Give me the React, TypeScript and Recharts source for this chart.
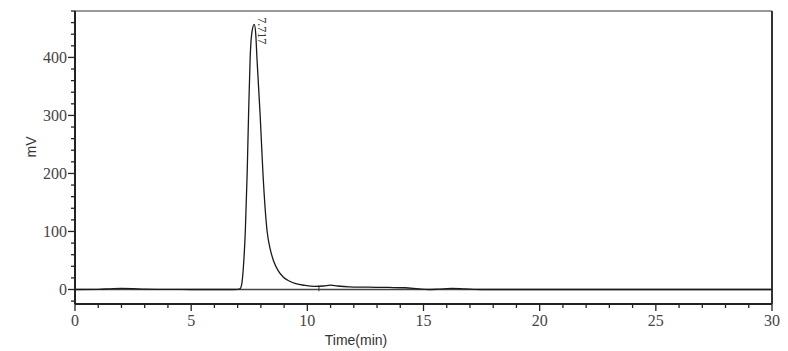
import React from "react";
import {
  LineChart,
  Line,
  XAxis,
  YAxis,
  ReferenceLine,
  ReferenceDot,
} from "recharts";

// retention time (min)
const TIMES = [
  0, 1, 1.5, 2, 2.5, 3, 4, 5, 6, 6.8, 7.0, 7.1, 7.18, 7.25, 7.33, 7.41, 7.47,
  7.54, 7.62, 7.717, 7.78, 7.83, 7.97, 8.09, 8.27, 8.4, 8.54, 8.75, 8.95, 9.2,
  9.5, 9.9, 10.3, 10.7, 11.0, 11.3, 11.8, 12.5, 13.5, 14.2, 14.8, 15.2, 15.6,
  16.2, 16.8, 17.5, 19, 22, 26, 30,
];
// detector signal (mV)
const SIGNAL = [
  0, 0.3, 1.2, 2, 1.5, 0.6, 0.2, 0, 0, 0, 0.2, 1, 10, 40, 100, 200, 300, 400,
  445, 457, 440, 400, 300, 200, 100, 70, 50, 32, 22, 15, 10, 7, 5.5, 6, 7.5, 6,
  4.5, 4, 3.5, 3, 1, 0, 0.5, 2, 1, 0, 0, 0, 0, 0,
];
const X_TICKS = Array.from({ length: 31 }, (_, i) => i);
const Y_TICKS = [-20, 0, 20, 40, 60, 80, 100, 120, 140, 160, 180, 200, 220, 240, 260, 280, 300, 320, 340, 360, 380, 400, 420, 440, 460, 480];
const PEAK_TIME = 7.717;
const PEAK_HEIGHT = 457;
const PEAK_LABEL = "7.717";
const MARKER_TIME = 10.5;

const data = TIMES.map((t, i) => ({ t, v: SIGNAL[i] }));

const SERIF = "'Liberation Serif', 'Times New Roman', serif";
const SANS = "Arial, 'Liberation Sans', sans-serif";

const XTick = (props: any) => {
  const { x, y, payload } = props;
  const major = payload.value % 5 === 0;
  return (
    <g>
      <line x1={x} x2={x} y1={y} y2={y + (major ? 7 : 4)} stroke="#222" strokeWidth={1.3} />
      {major && (
        <text x={x} y={y + 22} textAnchor="middle" fontFamily={SERIF} fontSize={16} fill="#444">
          {payload.value}
        </text>
      )}
    </g>
  );
};

const YTick = (props: any) => {
  const { x, y, payload } = props;
  const major = payload.value % 100 === 0;
  return (
    <g>
      <line x1={x} x2={x - (major ? 7 : 4)} y1={y} y2={y} stroke="#222" strokeWidth={1.3} />
      {major && (
        <text x={x - 8} y={y} dy="0.35em" textAnchor="end" fontFamily={SERIF} fontSize={16} fill="#444">
          {payload.value}
        </text>
      )}
    </g>
  );
};

export default function App() {
  return (
    <div style={{ position: "absolute", left: 0, top: 0, background: "#fff" }}>
      <LineChart
        width={788}
        height={351}
        data={data}
        margin={{ top: 11, right: 16, bottom: 0, left: 0 }}
      >
        <XAxis
          dataKey="t"
          type="number"
          domain={[0, 30]}
          ticks={X_TICKS}
          interval={0}
          tickSize={0}
          tickMargin={0}
          tickLine={false}
          tick={<XTick />}
          axisLine={{ stroke: "#222", strokeWidth: 2 }}
          height={47}
          allowDataOverflow
          label={{
            content: (p: any) => {
              const vb = p.viewBox;
              return (
                <text x={vb.x + 281} y={vb.y + 41} textAnchor="middle" fontFamily={SANS} fontSize={14} fill="#333">
                  Time(min)
                </text>
              );
            },
          }}
        />
        <YAxis
          type="number"
          domain={[-25, 480]}
          ticks={Y_TICKS}
          interval={0}
          tickSize={0}
          tickMargin={0}
          tickLine={false}
          tick={<YTick />}
          axisLine={{ stroke: "#222", strokeWidth: 2 }}
          width={75}
          allowDataOverflow
          label={{
            content: (p: any) => {
              const vb = p.viewBox;
              const cx = vb.x + 31;
              const cy = 147;
              return (
                <text x={cx} y={cy} dy="0.35em" textAnchor="middle" fontFamily={SANS} fontSize={14} fill="#333" transform={`rotate(-90 ${cx} ${cy})`}>
                  mV
                </text>
              );
            },
          }}
        />
        <ReferenceLine y={480} stroke="#777" strokeWidth={1.5} />
        <ReferenceLine x={30} stroke="#333" strokeWidth={2} />
        <ReferenceLine y={0} stroke="#444" strokeWidth={1.4} />
        <ReferenceLine
          segment={[
            { x: MARKER_TIME, y: -3 },
            { x: MARKER_TIME, y: 6 },
          ]}
          stroke="#333"
          strokeWidth={1}
        />
        <Line
          type="monotone"
          dataKey="v"
          stroke="#1a1a1a"
          strokeWidth={1.3}
          dot={false}
          isAnimationActive={false}
        />
        <ReferenceDot
          x={PEAK_TIME}
          y={PEAK_HEIGHT}
          r={1}
          fill="none"
          stroke="none"
          label={{
            content: (p: any) => {
              const vb = p.viewBox;
              const tx = vb.x + 5;
              const ty = vb.y - 6;
              return (
                <text x={tx} y={ty} fontFamily={SERIF} fontSize={12} fill="#333" transform={`rotate(90 ${tx} ${ty})`}>
                  {PEAK_LABEL}
                </text>
              );
            },
          }}
        />
      </LineChart>
    </div>
  );
}
